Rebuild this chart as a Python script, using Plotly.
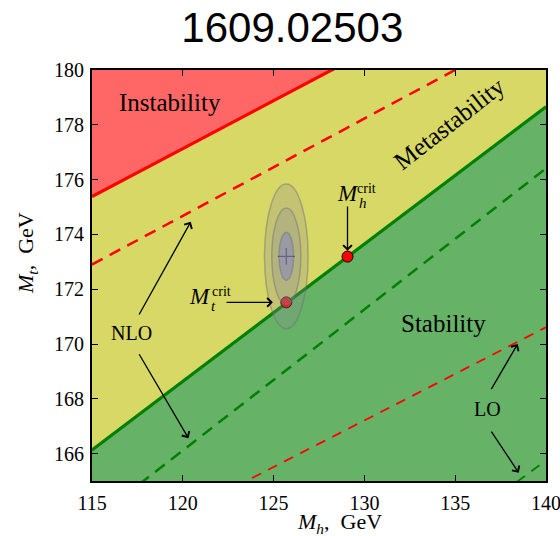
import plotly.graph_objects as go

# ---- data ----
mh_edges = [115, 140]
instab_line = [175.38, 184.13]      # red solid (instability boundary, NNLO)
stab_line = [166.13, 178.66]        # green solid (stability boundary, NNLO)
nlo_red = [172.90, 181.78]          # red dashed (NLO)
nlo_green = [163.54, 176.41]        # green dashed (NLO)
lo_red = [162.11, 170.61]           # red dashed (LO)
lo_green_mh = [136, 140]
lo_green = [163.80, 165.75]         # green dashed (LO)

mh_exp, mt_exp = 125.7, 173.2
sig_mh = [1.2, 0.8, 0.4]
sig_mt = [2.64, 1.76, 0.88]

crit_mh = [125.7, 129.07]
crit_mt = [171.52, 173.19]

x_ticks = [115, 120, 125, 130, 135, 140]
y_ticks = [166, 168, 170, 172, 174, 176, 178, 180]

SERIF = "Liberation Serif, Times New Roman, serif"
RED_FILL = "#ff6666"
YEL_FILL = "#d8d866"
GRN_FILL = "#66b266"
YMAX, YMIN = 190, 160

fig = go.Figure()

# regions
fig.add_trace(go.Scatter(x=[mh_edges[0], mh_edges[1], mh_edges[1], mh_edges[0]],
                         y=[instab_line[0], instab_line[1], YMAX, YMAX],
                         fill="toself", fillcolor=RED_FILL, line=dict(width=0),
                         mode="lines", hoverinfo="skip"))
fig.add_trace(go.Scatter(x=[mh_edges[0], mh_edges[1], mh_edges[1], mh_edges[0]],
                         y=[stab_line[0], stab_line[1], instab_line[1], instab_line[0]],
                         fill="toself", fillcolor=YEL_FILL, line=dict(width=0),
                         mode="lines", hoverinfo="skip"))
fig.add_trace(go.Scatter(x=[mh_edges[0], mh_edges[1], mh_edges[1], mh_edges[0]],
                         y=[YMIN, YMIN, stab_line[1], stab_line[0]],
                         fill="toself", fillcolor=GRN_FILL, line=dict(width=0),
                         mode="lines", hoverinfo="skip"))

# ellipses (experimental contours)
for i, (a, b) in enumerate(zip(sig_mh, sig_mt)):
    inner = i == len(sig_mh) - 1
    fig.add_shape(type="circle", xref="x", yref="y",
                  x0=mh_exp - a, x1=mh_exp + a, y0=mt_exp - b, y1=mt_exp + b,
                  fillcolor="rgba(130,130,205,0.5)" if inner else "rgba(140,140,150,0.28)",
                  line=dict(color="rgba(110,110,120,0.45)", width=1.5),
                  layer="above")

# lines
dash = "12px,8px"
fig.add_trace(go.Scatter(x=mh_edges, y=nlo_red, mode="lines",
                         line=dict(color="#ff0000", width=2.5, dash=dash)))
fig.add_trace(go.Scatter(x=mh_edges, y=nlo_green, mode="lines",
                         line=dict(color="#008000", width=2.5, dash=dash)))
fig.add_trace(go.Scatter(x=mh_edges, y=lo_red, mode="lines",
                         line=dict(color="#ff0000", width=1.8, dash="10px,8px")))
fig.add_trace(go.Scatter(x=lo_green_mh, y=lo_green, mode="lines",
                         line=dict(color="#008000", width=1.8, dash="10px,8px")))
fig.add_trace(go.Scatter(x=mh_edges, y=instab_line, mode="lines",
                         line=dict(color="#ff0000", width=3.2)))
fig.add_trace(go.Scatter(x=mh_edges, y=stab_line, mode="lines",
                         line=dict(color="#008000", width=3.2)))

# central value and critical points
fig.add_trace(go.Scatter(x=[mh_exp], y=[mt_exp], mode="markers",
                         marker=dict(symbol="cross-thin", size=12,
                                     line=dict(color="black", width=1.2))))
fig.add_trace(go.Scatter(x=crit_mh, y=crit_mt, mode="markers",
                         marker=dict(symbol="circle", size=11, color="#ff0000",
                                     line=dict(color="black", width=1))))

ann = []
def txt(x, y, s, size, angle=0, xanchor="center"):
    ann.append(dict(x=x, y=y, text=s, showarrow=False, textangle=angle, xanchor=xanchor,
                    yanchor="middle", font=dict(family=SERIF, size=size, color="black")))

txt(116.40, 178.8, "Instability", 25, xanchor="left")
txt(134.68, 178.05, "Metastability", 25, angle=-38)
txt(134.37, 170.75, "Stability", 25)
txt(117.18, 170.41, "NLO", 20)
txt(136.76, 167.62, "LO", 20)

# M_t^crit label
txt(120.95, 171.73, "<i>M</i>", 23)
txt(121.67, 171.40, "<i>t</i>", 15)
txt(122.15, 171.93, "crit", 14)
# M_h^crit label
txt(129.11, 175.51, "<i>M</i>", 23)
txt(129.94, 175.13, "<i>h</i>", 15)
txt(130.14, 175.68, "crit", 14)

def arrow(x0, y0, x1, y1):
    ann.append(dict(x=x1, y=y1, ax=x0, ay=y0, xref="x", yref="y", axref="x", ayref="y",
                    showarrow=True, arrowhead=4, arrowsize=1.3, arrowwidth=1.3,
                    arrowcolor="black", text=""))

arrow(117.55, 171.02, 120.44, 174.46)
arrow(117.55, 169.68, 120.31, 166.56)
arrow(136.94, 168.30, 138.44, 170.00)
arrow(136.94, 166.86, 138.50, 165.30)
arrow(122.33, 171.52, 124.96, 171.52)
arrow(129.07, 175.07, 129.07, 173.40)

# axis titles (paper coords are relative to the plot area)
ann.append(dict(x=-0.143, y=0.555, xref="paper", yref="paper", showarrow=False,
                text="<i>M</i><sub><i>t</i></sub>,  GeV", textangle=-90,
                xanchor="center", yanchor="middle",
                font=dict(family=SERIF, size=22, color="black")))
ann.append(dict(x=0.546, y=-0.103, xref="paper", yref="paper", showarrow=False,
                text="<i>M</i><sub><i>h</i></sub>,  GeV",
                xanchor="center", yanchor="middle",
                font=dict(family=SERIF, size=22, color="black")))

axis_common = dict(showline=True, linecolor="black", linewidth=2, mirror="ticks",
                   ticks="inside", ticklen=6, tickwidth=1, tickcolor="black",
                   showgrid=False, zeroline=False, ticklabeloverflow="allow",
                   automargin=False,
                   tickfont=dict(family=SERIF, size=20, color="black"))

fig.update_layout(
    width=560, height=536,
    margin=dict(l=92, r=14, t=70, b=55, autoexpand=False),
    paper_bgcolor="white", plot_bgcolor="white",
    showlegend=False,
    title=dict(text="1609.02503", x=0.522, xanchor="center", y=0.95, yanchor="middle",
               xref="container", yref="container",
               font=dict(family="Liberation Sans, Arial, sans-serif", size=42, color="black")),
    xaxis=dict(range=[115, 140], tickvals=x_ticks, ticklabelstandoff=3, **axis_common),
    yaxis=dict(range=[165, 180], tickvals=y_ticks, ticklabelstandoff=2, **axis_common),
    annotations=ann,
)

fig.write_html("out.html", config={"displayModeBar": False},
               post_script="document.body.style.margin='0';document.body.style.overflow='hidden';")
